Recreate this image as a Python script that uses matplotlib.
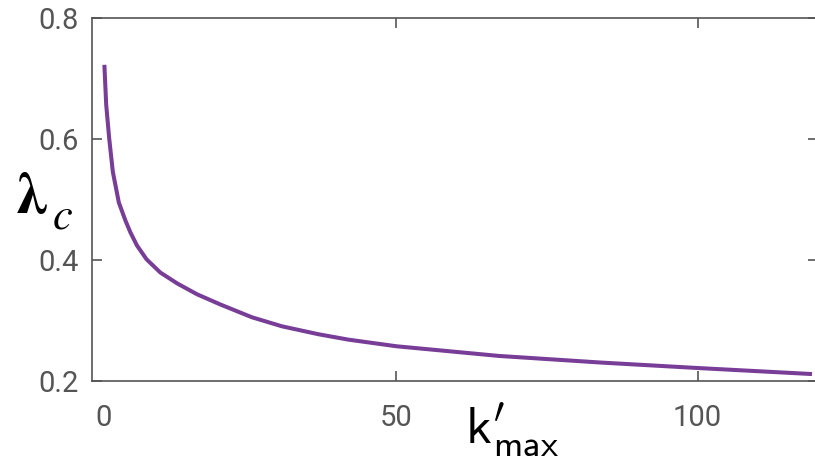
import matplotlib
matplotlib.use("Agg")
import matplotlib.pyplot as plt
from matplotlib.transforms import ScaledTranslation

# curve: k'_max vs lambda_c
k_max = [1.5, 1.8, 2.3, 2.9, 3.9, 5.0, 5.8, 6.9, 8.5, 10.8, 13.6, 16.9, 20.8,
         26.0, 31.0, 37.0, 42.0, 50.0, 67.0, 84.0, 100.0, 119.0]
lam_c = [0.723, 0.657, 0.601, 0.546, 0.495, 0.465, 0.446, 0.424, 0.401, 0.379,
         0.361, 0.343, 0.326, 0.305, 0.290, 0.277, 0.268, 0.257, 0.241, 0.230,
         0.221, 0.211]

x_ticks = [0, 50, 100]
y_ticks = [0.2, 0.4, 0.6, 0.8]

grey = "#555555"
purple = "#773d97"

plt.rcParams["font.family"] = ["Roboto", "DejaVu Sans"]
plt.rcParams["mathtext.fontset"] = "stix"

fig = plt.figure(figsize=(8.15, 4.61), dpi=100)
ax = fig.add_axes([0.1133, 0.1742, 0.8904, 0.7861])

ax.plot(k_max, lam_c, color=purple, lw=2.9, solid_capstyle="butt",
        solid_joinstyle="round")

ax.set_xlim(-0.5, 120)
ax.set_ylim(0.2, 0.8)
ax.set_xticks(x_ticks)
ax.set_yticks(y_ticks)
ax.set_xticklabels([str(t) for t in x_ticks])
ax.set_yticklabels(["%.1f" % t for t in y_ticks])

for s in ax.spines.values():
    s.set_color(grey)
    s.set_linewidth(1.2)

ax.tick_params(axis="both", direction="in", length=7.5, width=1.2, color=grey,
               labelcolor=grey, labelsize=21, top=True, right=True)
ax.tick_params(axis="x", pad=17)
ax.tick_params(axis="y", pad=10)

# no tick mark at x = 0 in the original, and its label sits a bit to the right
xt = ax.xaxis.get_major_ticks()[0]
xt.tick1line.set_visible(False)
xt.tick2line.set_visible(False)
xt.label1.set_transform(xt.label1.get_transform() +
                        ScaledTranslation(8 / 100, 0, fig.dpi_scale_trans))

# y label: bold lambda with italic subscript c
fig.text(15 / 815, 1 - 213 / 461, r"$\boldsymbol{\lambda}$", fontsize=42,
         ha="left", va="baseline", color="black")
fig.text(52 / 815, 1 - 228 / 461, r"$c$", fontsize=32,
         ha="left", va="baseline", color="black")

# x label: k' with subscript max stacked under the prime
fig.text(465 / 815, 1 - 443 / 461, r"$\mathsf{k}^{\prime}_{\mathsf{max}}$",
         fontsize=38, math_fontfamily="cm", ha="left", va="baseline",
         color="black")

fig.savefig("out.png", dpi=100)
